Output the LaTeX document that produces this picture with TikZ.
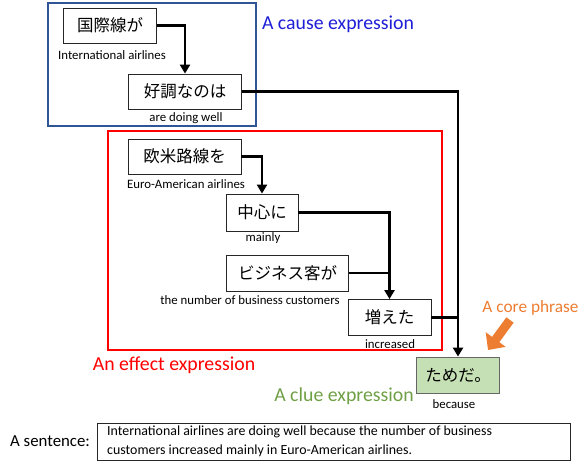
\documentclass[tikz,border=0pt]{standalone}
\usepackage{fontspec}
\setmainfont{Carlito}
\newfontfamily\jpfont{Noto Sans CJK JP}
\usetikzlibrary{arrows.meta}
\definecolor{causeblue}{RGB}{47,85,151}
\definecolor{causetext}{RGB}{30,30,215}
\definecolor{effred}{RGB}{255,0,0}
\definecolor{cluegreen}{RGB}{112,160,70}
\definecolor{greenfill}{RGB}{197,224,180}
\definecolor{coreorange}{RGB}{237,125,49}
\tikzset{
  phr/.style={draw=black!85, line width=0.8pt, fill=white, inner sep=0pt,
    minimum height=35pt, font=\jpfont\fontsize{16.5}{18}\selectfont},
  gloss/.style={inner sep=0pt, font=\fontsize{12.8}{14}\selectfont},
  conn/.style={line width=2.2pt, line cap=butt},
  arr/.style={conn, -{Triangle[length=9pt,width=10pt]}},
  big/.style={inner sep=0pt, font=\fontsize{19.8}{22}\selectfont}
}
\begin{document}
\begin{tikzpicture}[x=1pt,y=-1pt]
\useasboundingbox (0,0) rectangle (580,465);
% region boxes
\node[draw=causeblue, line width=2pt, minimum width=208pt, minimum height=123pt, inner sep=0pt] (causebox) at (152,64.5) {};
\node[draw=effred, line width=2pt, minimum width=334pt, minimum height=219pt, inner sep=0pt] (effbox) at (275,240.5) {};
% phrase nodes
\node[phr, minimum width=93pt] (a) at (110,25.5) {国際線が};
\node[phr, minimum width=113pt] (b) at (185,91.5) {好調なのは};
\node[phr, minimum width=113pt] (c) at (184.5,156.5) {欧米路線を};
\node[phr, minimum width=72pt, minimum height=37pt] (d) at (262,212.5) {中心に};
\node[phr, minimum width=122pt, minimum height=36pt] (e) at (287.5,273) {ビジネス客が};
\node[phr, minimum width=83pt, minimum height=36pt] (f) at (389.5,317.5) {増えた};
\node[phr, draw=black!60, fill=greenfill, minimum width=83pt, minimum height=36pt] (g) at (458,375) {ためだ。};
% glosses
\node[gloss] (ga) at (112,55) {International airlines};
\node[gloss] (gb) at (186,118) {are doing well};
\node[gloss] (gc) at (186,184) {Euro-American airlines};
\node[gloss] (gd) at (263,238) {mainly};
\node[gloss] (ge) at (250,300) {the number of business customers};
\node[gloss] (gf) at (390,344.5) {increased};
\node[gloss] (gg) at (454,404) {because};
% connectors
\draw[arr] (a.east) -| (b.north);
\draw[arr] (c.east) -| (d.north);
\draw[arr] (d.east) -| (f.north);
\draw[conn] (e.east) -- (f.north |- e.east);
\draw[arr] (b.east) -| (g.north);
\draw[conn] (f.east) -- (g.north |- f.east);
% labels
\node[big, text=causetext] (lcause) at (338,24) {A cause expression};
\node[big, text=effred] (leff) at (174,365) {An effect expression};
\node[big, text=cluegreen] (lclue) at (344,396) {A clue expression};
\node[big, text=coreorange, font=\fontsize{17.3}{20}\selectfont] (lcore) at (530.5,308) {A core phrase};
\coordinate (corefrom) at (510,320);
\coordinate (coreto) at (488,350);
\draw[coreorange, line width=9pt, -{Triangle[length=13pt,width=24pt]}] (corefrom) -- (coreto);
% sentence
\node[big, font=\fontsize{16.8}{20}\selectfont, anchor=west] (lsent) at (10,441) {A sentence:};
\node[draw=black!85, line width=0.8pt, minimum width=473pt, minimum height=37pt, inner sep=0pt] (sbox) at (333.5,441.5) {};
\node[anchor=west, inner sep=0pt, align=left, font=\fontsize{13.9}{19.5}\selectfont] (stext) at (107,441.5) {International airlines are doing well because the number of business\\customers increased mainly in Euro-American airlines.};
\end{tikzpicture}
\end{document}
